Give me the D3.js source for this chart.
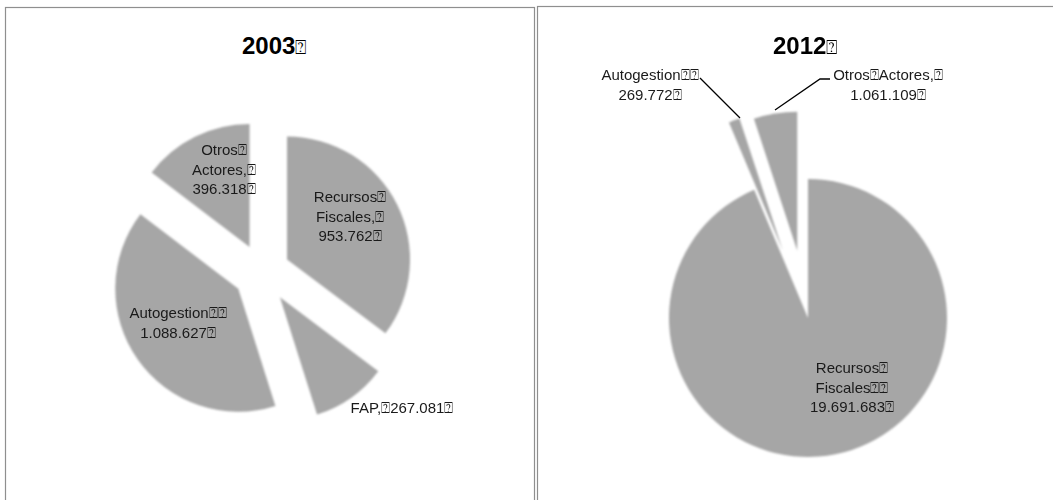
<!DOCTYPE html>
<html>
<head>
<meta charset="utf-8">
<script src="https://cdn.jsdelivr.net/npm/d3@7"></script>
<style>
  html, body { margin: 0; padding: 0; background: #fff; }
  svg { display: block; }
  text { font-family: "Liberation Sans", Arial, sans-serif; fill: #1a1a1a; }
</style>
</head>
<body>
<svg id="chart" width="1053" height="500"></svg>
<script>
// ---- data ----
const titles = ["2003", "2012"];
const titleMark = "\u2370";
const cats2003 = ["Recursos Fiscales", "FAP", "Autogestion", "Otros Actores"];
const vals2003 = [953762, 267081, 1088627, 396318];
const labels2003 = [
  ["Recursos\u2370", "Fiscales,\u2370", "953.762\u2370"],
  ["FAP,\u2370267.081\u2370"],
  ["Autogestion\u2370\u2370", "1.088.627\u2370"],
  ["Otros\u2370", "Actores,\u2370", "396.318\u2370"]
];
const cats2012 = ["Recursos Fiscales", "Autogestion", "Otros Actores"];
const vals2012 = [19691683, 269772, 1061109];
const labels2012 = [
  ["Recursos\u2370", "Fiscales\u2370\u2370", "19.691.683\u2370"],
  ["Autogestion\u2370\u2370", "269.772\u2370"],
  ["Otros\u2370Actores,\u2370", "1.061.109\u2370"]
];

// ---- layout (positions/styles) ----
const panels = [
  { x: 5.5, y: 7.5, w: 529, h: 520, cx: 262, cy: 272, r: 123,
    explode: [28, 31, 29, 28], titleX: 242, titleY: 54,
    labelPos: [[350, 202], [402, 413], [178, 318], [224, 155]],
    leaders: [] },
  { x: 537.5, y: 6.5, w: 530, h: 520, cx: 808, cy: 318, r: 139,
    explode: [0, 72, 68], titleX: 773, titleY: 54,
    labelPos: [[852, 373], [650, 80], [888, 80]],
    leaders: [[[700, 78], [740, 118]], [[830, 79], [820, 79], [775, 110]]] }
];
const sliceColor = "#a6a6a6";
const lineH = 19.5;

const svg = d3.select("#chart");
const defs = svg.append("defs");
defs.append("filter").attr("id", "soft")
  .attr("x", "-10%").attr("y", "-10%").attr("width", "120%").attr("height", "120%")
  .append("feGaussianBlur").attr("stdDeviation", 0.9);

const datasets = [
  { cats: cats2003, vals: vals2003, labels: labels2003 },
  { cats: cats2012, vals: vals2012, labels: labels2012 }
];

datasets.forEach((ds, i) => {
  const p = panels[i];
  const g = svg.append("g");
  g.append("rect").attr("x", p.x).attr("y", p.y).attr("width", p.w).attr("height", p.h)
    .attr("fill", "#fff").attr("stroke", "#8f8f8f").attr("stroke-width", 1.2);

  const tt = g.append("text").attr("x", p.titleX).attr("y", p.titleY)
    .attr("font-size", 24).attr("font-weight", "bold").style("fill", "#000");
  tt.append("tspan").text(titles[i]);
  tt.append("tspan").attr("font-weight", "normal").attr("font-size", 19).text(titleMark);

  const pie = d3.pie().sort(null).value(d => d)(ds.vals);
  const arc = d3.arc().innerRadius(0).outerRadius(p.r);

  const slices = g.append("g").attr("filter", "url(#soft)");
  slices.selectAll("path").data(pie).join("path")
    .attr("d", arc)
    .attr("fill", sliceColor)
    .attr("transform", (d, k) => {
      const a = (d.startAngle + d.endAngle) / 2;
      const e = p.explode[k];
      return `translate(${p.cx + e * Math.sin(a)},${p.cy - e * Math.cos(a)})`;
    });

  const line = d3.line();
  p.leaders.forEach(pts => {
    g.append("path").attr("d", line(pts)).attr("fill", "none")
      .attr("stroke", "#000").attr("stroke-width", 1.3);
  });

  ds.labels.forEach((lines, k) => {
    const t = g.append("text").attr("text-anchor", "middle").attr("font-size", 15);
    lines.forEach((s, j) => {
      t.append("tspan").attr("x", p.labelPos[k][0]).attr("y", p.labelPos[k][1] + j * lineH).text(s);
    });
  });
});
</script>
</body>
</html>
